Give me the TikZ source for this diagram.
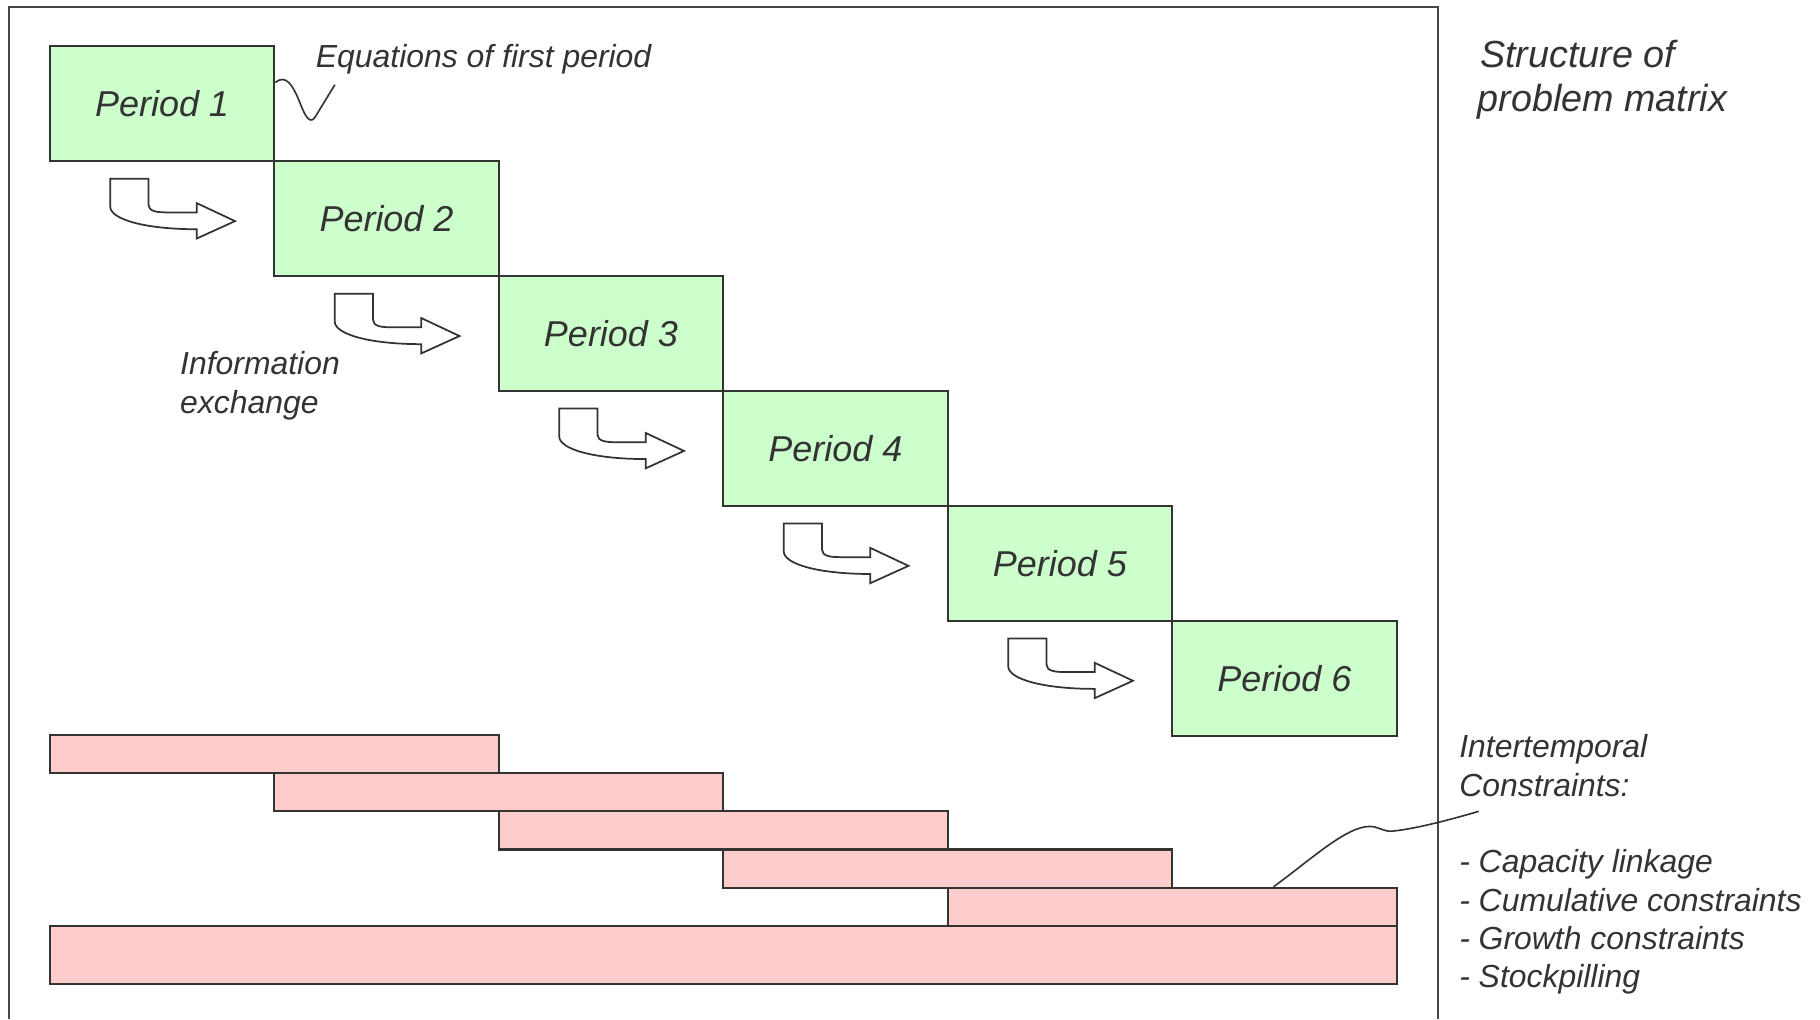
\documentclass[tikz,border=0pt]{standalone}
\usepackage{fontspec}
\setmainfont{Liberation Sans}
\usetikzlibrary{calc}
\definecolor{linec}{HTML}{333333}
\definecolor{textc}{HTML}{333333}
\definecolor{greenf}{HTML}{CCFFCC}
\definecolor{pinkf}{HTML}{FFCCCC}
\begin{document}
\begin{tikzpicture}[x=1pt,y=-1pt,
  line/.style={draw=linec, line width=1.8pt},
  period/.style={line, fill=greenf, minimum width=193.4pt, minimum height=99pt, inner sep=0pt,
    font=\fontsize{31}{37}\selectfont\itshape, text=textc, anchor=north west},
  bar/.style={line, fill=pinkf, inner sep=0pt, anchor=north west},
  lbl/.style={font=\fontsize{27.5}{33}\selectfont\itshape, text=textc, inner sep=0pt, anchor=base west},
  biglbl/.style={font=\fontsize{32.5}{38}\selectfont\itshape, text=textc, inner sep=0pt, anchor=base west},
  infoarrow/.style={line, line width=1.5pt, fill=white, line join=miter},
  leader/.style={draw=linec, line width=1.4pt}]
\useasboundingbox (0,0) rectangle (1568,878);
% outer frame
\draw[line, draw=linec!90] (8,878) -- (8,6) -- (1239,6) -- (1239,878);
% period boxes
\foreach \i in {1,...,6} {
  \node[period] (p\i) at ({42+193.4*(\i-1)},{39+99*(\i-1)}) {Period \i};
}
% information exchange arrows
\foreach \k in {0,...,4} {
  \begin{scope}[shift={({193.4*\k},{99*\k})}]
    \draw[infoarrow] (95,154) -- (128,154) -- (128,176.5)
      .. controls (128,182) and (135,183) .. (144,183) -- (169.5,183)
      -- (169.5,175) -- (202.5,190.5) -- (169.5,205.5) -- (169.5,197.5)
      .. controls (125,197.5) and (95,189) .. (95,178) -- cycle;
  \end{scope}
}
% bars
\foreach \i in {1,...,5} {
  \node[bar, minimum width=386.8pt, minimum height=33pt] (b\i) at ({42+193.4*(\i-1)},{632+33*(\i-1)}) {};
}
\node[bar, minimum width=1160.4pt, minimum height=50pt] (b6) at (42,797) {};
% labels
\node[lbl] (eq) at (272,58) {Equations of first period};
\draw[leader] ($(p1.north east)+(0,32)$) .. controls (246,64) and (252,72) .. (259,90)
  .. controls (264,103) and (268,107) .. (272,100) -- (288.5,73);
\node[biglbl] (s1) at (1275,58) {Structure of};
\node[biglbl] (s2) at (1273,96) {problem matrix};
\node[lbl] (ie1) at (155,323) {Information};
\node[lbl] (ie2) at (155,356) {exchange};
\node[lbl] (ic1) at (1257,653) {Intertemporal};
\node[lbl] (ic2) at (1257,686) {Constraints:};
\node[lbl] (ic3) at (1257,752) {- Capacity linkage};
\node[lbl] (ic4) at (1257,785) {- Cumulative constraints};
\node[lbl] (ic5) at (1257,818) {- Growth constraints};
\node[lbl] (ic6) at (1257,851) {- Stockpilling};
\coordinate (leadend) at (1274,699);
\draw[leader] ($(b5.north west)+(281.6,0)$) .. controls (1130,740) and (1160,712) .. (1180,712)
  .. controls (1188,712) and (1192,717) .. (1200,716)
  .. controls (1220,714) and (1250,706) .. (leadend);
\end{tikzpicture}
\end{document}
